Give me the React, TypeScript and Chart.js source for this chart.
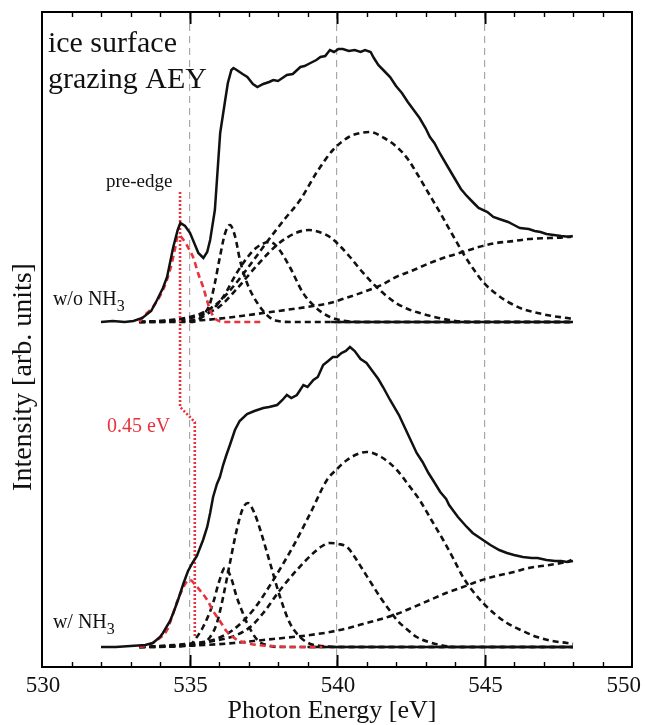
import React, { useEffect, useRef } from 'react';
import { Chart, registerables } from 'chart.js';

Chart.register(...registerables);

// ---------- axis / layout values ----------
const xMin = 530;
const xMax = 550;
const xMajorStep = 5;
const xMinorStep = 1;
const yMin = 0;
const yMax = 6.55;

// vertical offsets of the two stacked spectra
const woOffset = 3.45; // w/o NH3
const wOffset = 0.2; // w/ NH3

// ---------- w/o NH3 (upper) ----------
const woSpectrum: [number, number][] = [
  [532.0, 0.0], [532.4, 0.01], [532.8, 0.0], [533.1, 0.01], [533.4, 0.04], [533.7, 0.11],
  [533.9, 0.22], [534.1, 0.34], [534.24, 0.45], [534.45, 0.75], [534.6, 0.92], [534.69, 0.99],
  [534.85, 0.96], [535.02, 0.89], [535.3, 0.69], [535.47, 0.64], [535.6, 0.7], [535.7, 0.82],
  [535.86, 1.12], [536.04, 1.89], [536.2, 2.2], [536.3, 2.39], [536.42, 2.52], [536.49, 2.54],
  [536.6, 2.52], [536.8, 2.48], [536.96, 2.45], [537.15, 2.38], [537.3, 2.35], [537.5, 2.38],
  [537.7, 2.4], [537.84, 2.42], [538.0, 2.41], [538.2, 2.45], [538.3, 2.47], [538.5, 2.48],
  [538.76, 2.55], [538.9, 2.56], [539.1, 2.59], [539.3, 2.62], [539.44, 2.65], [539.6, 2.66],
  [539.76, 2.72], [539.9, 2.7], [540.05, 2.73], [540.2, 2.73], [540.4, 2.71], [540.6, 2.72],
  [540.8, 2.7], [540.95, 2.72], [541.14, 2.7], [541.25, 2.64], [541.4, 2.57], [541.6, 2.51],
  [541.8, 2.45], [542.0, 2.36], [542.2, 2.29], [542.4, 2.2], [542.6, 2.12], [542.8, 2.04],
  [543.0, 1.94], [543.15, 1.85], [543.3, 1.79], [543.5, 1.68], [543.7, 1.58], [543.96, 1.45],
  [544.2, 1.33], [544.4, 1.26], [544.6, 1.2], [544.8, 1.14], [545.1, 1.1], [545.3, 1.05],
  [545.5, 1.03], [545.8, 1.0], [546.0, 0.97], [546.2, 0.94], [546.5, 0.93], [546.7, 0.91],
  [546.9, 0.9], [547.1, 0.88], [547.35, 0.87], [547.6, 0.86], [547.93, 0.85],
];
const woPreEdge: [number, number][] = [
  [533.3, 0], [533.42, 0.05], [533.76, 0.15], [534.1, 0.32], [534.34, 0.52], [534.5, 0.72],
  [534.62, 0.87], [534.8, 0.82], [535.0, 0.72], [535.12, 0.65], [535.3, 0.48], [535.46, 0.35],
  [535.6, 0.21], [535.7, 0.12], [535.85, 0.04], [536.0, 0.01], [536.3, 0], [537.4, 0],
];
const woPeak1: [number, number][] = [
  [533.3, 0], [535.0, 0], [535.3, 0.02], [535.5, 0.08], [535.7, 0.19], [535.86, 0.39],
  [536.03, 0.65], [536.2, 0.88], [536.37, 0.97], [536.55, 0.85], [536.71, 0.62], [536.95, 0.39],
  [537.3, 0.19], [537.7, 0.05], [538.0, 0.01], [538.5, 0], [548.0, 0],
];
const woPeak2: [number, number][] = [
  [533.3, 0], [535.0, 0.01], [535.6, 0.08], [536.14, 0.25], [536.6, 0.49], [537.0, 0.66],
  [537.3, 0.75], [537.73, 0.8], [538.0, 0.74], [538.4, 0.55], [538.85, 0.29], [539.3, 0.14],
  [539.76, 0.05], [540.3, 0.01], [541.0, 0], [548.0, 0],
];
const woPeak3: [number, number][] = [
  [533.3, 0], [534.5, 0.02], [535.3, 0.06], [536.0, 0.15], [536.6, 0.33], [537.3, 0.57],
  [538.0, 0.78], [538.6, 0.89], [539.05, 0.92], [539.4, 0.9], [539.76, 0.85], [540.1, 0.76],
  [540.44, 0.65], [540.8, 0.52], [541.2, 0.39], [541.6, 0.28], [542.0, 0.19], [542.4, 0.13],
  [542.8, 0.09], [543.3, 0.05], [543.8, 0.02], [544.5, 0], [548.0, 0],
];
const woPeak4: [number, number][] = [
  [533.3, 0], [534.0, 0.01], [535.0, 0.05], [535.5, 0.1], [536.0, 0.2], [536.47, 0.35],
  [537.0, 0.55], [537.6, 0.79], [538.2, 1.02], [538.75, 1.22], [539.32, 1.5], [539.86, 1.72],
  [540.4, 1.85], [540.8, 1.89], [541.12, 1.9], [541.6, 1.84], [542.03, 1.75], [542.4, 1.63],
  [542.7, 1.49], [543.1, 1.29], [543.5, 1.09], [543.9, 0.88], [544.27, 0.69], [544.6, 0.54],
  [544.95, 0.4], [545.4, 0.28], [545.86, 0.19], [546.3, 0.13], [546.8, 0.09], [547.3, 0.06],
  [547.8, 0.04], [548.0, 0.03],
];
const woStep: [number, number][] = [
  [533.3, 0], [534.5, 0.01], [535.5, 0.02], [536.5, 0.05], [537.5, 0.09], [538.5, 0.13],
  [539.2, 0.16], [539.76, 0.19], [540.3, 0.24], [540.9, 0.3], [541.5, 0.37], [542.0, 0.45],
  [542.6, 0.52], [543.15, 0.59], [543.7, 0.65], [544.27, 0.7], [544.8, 0.75], [545.4, 0.79],
  [546.0, 0.81], [546.5, 0.83], [547.2, 0.84], [547.8, 0.85], [548.0, 0.86],
];
const woBaseline: [number, number][] = [[539.8, 0], [548.0, 0]];

// ---------- w/ NH3 (lower) ----------
const wSpectrum: [number, number][] = [
  [532.0, 0.0], [532.5, 0.0], [533.0, 0.01], [533.5, 0.02], [533.76, 0.04], [534.0, 0.1],
  [534.1, 0.14], [534.34, 0.26], [534.45, 0.34], [534.6, 0.46], [534.8, 0.64], [534.95, 0.76],
  [535.1, 0.84], [535.25, 0.91], [535.46, 1.07], [535.6, 1.2], [535.7, 1.34], [535.8, 1.5],
  [535.93, 1.63], [536.03, 1.7], [536.14, 1.82], [536.25, 1.92], [536.37, 2.02], [536.54, 2.17],
  [536.7, 2.26], [536.95, 2.33], [537.2, 2.36], [537.5, 2.39], [537.7, 2.4], [537.97, 2.42],
  [538.15, 2.47], [538.3, 2.52], [538.45, 2.49], [538.64, 2.52], [538.86, 2.62], [539.0, 2.6],
  [539.2, 2.67], [539.35, 2.7], [539.53, 2.82], [539.7, 2.86], [539.86, 2.9], [540.0, 2.9],
  [540.15, 2.94], [540.3, 2.96], [540.44, 3.0], [540.6, 2.96], [540.8, 2.88], [541.0, 2.84],
  [541.2, 2.76], [541.4, 2.68], [541.56, 2.6], [541.8, 2.47], [542.1, 2.32], [542.4, 2.13],
  [542.7, 1.94], [542.9, 1.85], [543.1, 1.74], [543.25, 1.67], [543.5, 1.55], [543.7, 1.48],
  [543.8, 1.42], [544.1, 1.3], [544.4, 1.2], [544.6, 1.14], [544.95, 1.07], [545.2, 1.02],
  [545.5, 0.97], [545.76, 0.94], [546.0, 0.92], [546.3, 0.9], [546.6, 0.89], [546.8, 0.89],
  [547.1, 0.87], [547.4, 0.86], [547.6, 0.86], [547.8, 0.85], [547.95, 0.87],
];
const wPreEdge: [number, number][] = [
  [533.3, 0], [533.6, 0.02], [533.9, 0.07], [534.24, 0.17], [534.45, 0.34], [534.6, 0.47],
  [534.75, 0.57], [534.9, 0.65], [535.02, 0.67], [535.2, 0.62], [535.4, 0.55], [535.6, 0.47],
  [535.8, 0.36], [536.03, 0.26], [536.25, 0.16], [536.47, 0.1], [536.7, 0.06], [536.95, 0.04],
  [537.3, 0.02], [537.8, 0.01], [538.5, 0], [539.5, 0],
];
const wPeak1: [number, number][] = [
  [533.3, 0], [535.0, 0.02], [535.25, 0.1], [535.46, 0.2], [535.65, 0.32], [535.8, 0.44],
  [536.0, 0.65], [536.2, 0.79], [536.4, 0.7], [536.6, 0.5], [536.78, 0.36], [536.95, 0.24],
  [537.3, 0.07], [537.6, 0.02], [538.0, 0], [548.0, 0],
];
const wPeak2: [number, number][] = [
  [533.3, 0], [535.3, 0.02], [535.7, 0.1], [535.93, 0.24], [536.14, 0.5], [536.37, 0.84],
  [536.6, 1.17], [536.8, 1.38], [536.98, 1.44], [537.2, 1.34], [537.4, 1.17], [537.73, 0.84],
  [538.07, 0.5], [538.4, 0.24], [538.75, 0.1], [539.1, 0.03], [539.5, 0.01], [540.0, 0], [548.0, 0],
];
const wPeak3: [number, number][] = [
  [533.3, 0], [535.0, 0.02], [535.8, 0.06], [536.6, 0.12], [537.06, 0.2], [537.5, 0.34],
  [538.07, 0.57], [538.64, 0.77], [539.2, 0.94], [539.5, 1.01], [539.76, 1.04], [540.05, 1.03],
  [540.34, 1.0], [540.6, 0.9], [540.88, 0.77], [541.2, 0.62], [541.46, 0.5], [541.75, 0.38],
  [542.03, 0.27], [542.4, 0.17], [542.7, 0.1], [543.1, 0.05], [543.5, 0.02], [544.0, 0], [548.0, 0],
];
const wPeak4: [number, number][] = [
  [533.3, 0], [534.5, 0.02], [535.2, 0.04], [535.8, 0.07], [536.47, 0.17], [537.16, 0.37],
  [537.84, 0.67], [538.5, 1.0], [539.1, 1.34], [539.66, 1.67], [540.0, 1.78], [540.34, 1.87],
  [540.7, 1.93], [541.0, 1.95], [541.5, 1.9], [542.03, 1.77], [542.4, 1.63], [542.8, 1.47],
  [543.2, 1.27], [543.6, 1.07], [543.95, 0.88], [544.27, 0.7], [544.6, 0.56], [544.95, 0.44],
  [545.35, 0.33], [545.76, 0.24], [546.3, 0.16], [546.78, 0.1], [547.3, 0.06], [547.8, 0.04],
  [548.0, 0.03],
];
const wStep: [number, number][] = [
  [533.3, 0], [534.5, 0.01], [535.5, 0.02], [536.5, 0.04], [537.5, 0.07], [538.5, 0.1],
  [539.1, 0.12], [539.76, 0.15], [540.4, 0.19], [540.88, 0.23], [541.5, 0.28], [542.03, 0.33],
  [542.6, 0.4], [543.15, 0.47], [543.7, 0.54], [544.27, 0.6], [544.8, 0.66], [545.4, 0.71],
  [546.0, 0.75], [546.5, 0.79], [547.2, 0.82], [547.8, 0.85], [548.0, 0.86],
];
const wBaseline: [number, number][] = [[539.0, 0], [548.0, 0]];

// red dotted marker joining the two pre-edge maxima (absolute y)
const preEdgeShift: [number, number][] = [
  [534.68, 4.75], [534.68, 2.6], [535.18, 2.45], [535.18, 0.3],
];

// ---------- text ----------
const xTickLabels = ['530', '535', '540', '545', '550'];
const xTitle = 'Photon Energy [eV]';
const yTitle = 'Intensity [arb. units]';
const labels = [
  { text: 'ice surface', x: 530.2, y: 6.15, size: 30, color: '#111' },
  { text: 'grazing AEY', x: 530.2, y: 5.79, size: 30, color: '#111' },
  { text: 'pre-edge', x: 532.17, y: 4.8, size: 19, color: '#111' },
  { text: '0.45 eV', x: 532.2, y: 2.35, size: 20, color: '#e8323c' },
];
const subLabels = [
  { main: 'w/o NH', sub: '3', x: 530.37, y: 3.62 },
  { main: 'w/ NH', sub: '3', x: 530.37, y: 0.39 },
];

const SERIF = '"Liberation Serif", "Times New Roman", "DejaVu Serif", serif';
const RED = '#e8323c';

const pts = (arr: [number, number][], off: number) => arr.map(([x, y]) => ({ x, y: y + off }));

const decorPlugin = {
  id: 'decor',
  afterDraw(chart: any) {
    const { ctx, chartArea: a, scales, width } = chart;
    const xs = scales.x;
    const ys = scales.y;
    ctx.save();
    ctx.strokeStyle = '#000';
    for (let v = xMin + xMinorStep; v < xMax; v += xMinorStep) {
      const px = Math.round(xs.getPixelForValue(v)) + 0.5;
      const major = v % xMajorStep === 0;
      const len = major ? 12 : 5;
      ctx.lineWidth = major ? 2 : 1.4;
      ctx.beginPath();
      ctx.moveTo(px, a.bottom);
      ctx.lineTo(px, a.bottom - len);
      ctx.moveTo(px, a.top);
      ctx.lineTo(px, a.top + len);
      ctx.stroke();
    }
    ctx.lineWidth = 2;
    ctx.strokeRect(a.left, a.top, a.right - a.left, a.bottom - a.top);

    // x tick labels (kept inside the canvas)
    ctx.fillStyle = '#111';
    ctx.textBaseline = 'alphabetic';
    ctx.textAlign = 'center';
    ctx.font = `23px ${SERIF}`;
    xTickLabels.forEach((t) => {
      const w = ctx.measureText(t).width;
      const cx = Math.min(xs.getPixelForValue(Number(t)) + 1, width - w / 2 - 4);
      ctx.fillText(t, cx, a.bottom + 25);
    });
    // x title
    ctx.font = `26px ${SERIF}`;
    ctx.fillText(xTitle, (a.left + a.right) / 2 - 5, a.bottom + 51);

    ctx.textAlign = 'left';
    for (const l of labels) {
      ctx.font = `${l.size}px ${SERIF}`;
      ctx.fillStyle = l.color;
      ctx.fillText(l.text, xs.getPixelForValue(l.x), ys.getPixelForValue(l.y));
    }
    for (const l of subLabels) {
      const px = xs.getPixelForValue(l.x);
      const py = ys.getPixelForValue(l.y);
      ctx.fillStyle = '#111';
      ctx.font = `20px ${SERIF}`;
      ctx.fillText(l.main, px, py);
      const w = ctx.measureText(l.main).width;
      ctx.font = `16px ${SERIF}`;
      ctx.fillText(l.sub, px + w, py + 6);
    }

    // rotated y-axis title
    ctx.save();
    ctx.translate(31, ys.getPixelForValue(2.9));
    ctx.rotate(-Math.PI / 2);
    ctx.font = `28px ${SERIF}`;
    ctx.fillStyle = '#111';
    ctx.textAlign = 'center';
    ctx.fillText(yTitle, 0, 0);
    ctx.restore();

    ctx.restore();
  },
};

export default function App() {
  const ref = useRef<HTMLCanvasElement | null>(null);

  useEffect(() => {
    document.body.style.margin = '0';
    const canvas = ref.current;
    if (!canvas) return;

    const solid = (data: any[]) => ({
      data,
      borderColor: '#111',
      borderWidth: 2.5,
      pointRadius: 0,
      tension: 0,
      fill: false,
    });
    const dashed = (data: any[], color = '#111') => ({
      data,
      borderColor: color,
      borderWidth: 2.6,
      borderDash: [6, 4],
      pointRadius: 0,
      cubicInterpolationMode: 'monotone',
      fill: false,
    });

    const chart = new Chart(canvas, {
      type: 'line',
      data: {
        datasets: [
          solid(pts(woSpectrum, woOffset)),
          solid(pts(wSpectrum, wOffset)),
          {
            data: pts(preEdgeShift, 0),
            borderColor: RED,
            borderWidth: 2.6,
            borderDash: [2, 2],
            pointRadius: 0,
            tension: 0,
            fill: false,
          },
          dashed(pts(woPreEdge, woOffset), RED),
          dashed(pts(wPreEdge, wOffset), RED),
          dashed(pts(woPeak1, woOffset)),
          dashed(pts(woPeak2, woOffset)),
          dashed(pts(woPeak3, woOffset)),
          dashed(pts(woPeak4, woOffset)),
          dashed(pts(woStep, woOffset)),
          dashed(pts(wPeak1, wOffset)),
          dashed(pts(wPeak2, wOffset)),
          dashed(pts(wPeak3, wOffset)),
          dashed(pts(wPeak4, wOffset)),
          dashed(pts(wStep, wOffset)),
          solid(pts(woBaseline, woOffset)),
          solid(pts(wBaseline, wOffset)),
        ] as any,
      },
      options: {
        responsive: false,
        animation: false,
        layout: { padding: { top: 12, right: 13, left: 0, bottom: 0 } },
        plugins: { legend: { display: false }, tooltip: { enabled: false } },
        scales: {
          x: {
            type: 'linear',
            min: xMin,
            max: xMax,
            ticks: { stepSize: xMajorStep, display: false },
            grid: {
              color: (c: any) =>
                c.tick && (c.tick.value === xMin || c.tick.value === xMax) ? 'rgba(0,0,0,0)' : '#a8a8a8',
              lineWidth: 1.2,
              drawTicks: false,
            },
            border: { display: false, dash: [7, 5] },
            title: { display: false },
            afterFit: (s: any) => {
              s.height = 58;
              s.paddingLeft = 0;
              s.paddingRight = 0;
            },
          },
          y: {
            min: yMin,
            max: yMax,
            ticks: { display: false },
            grid: { display: false, drawTicks: false },
            border: { display: false },
            title: { display: false },
            afterFit: (s: any) => {
              s.width = 42;
            },
          },
        },
      },
      plugins: [decorPlugin],
    } as any);

    return () => chart.destroy();
  }, []);

  return <canvas ref={ref} width={645} height={725} style={{ display: 'block' }} />;
}
